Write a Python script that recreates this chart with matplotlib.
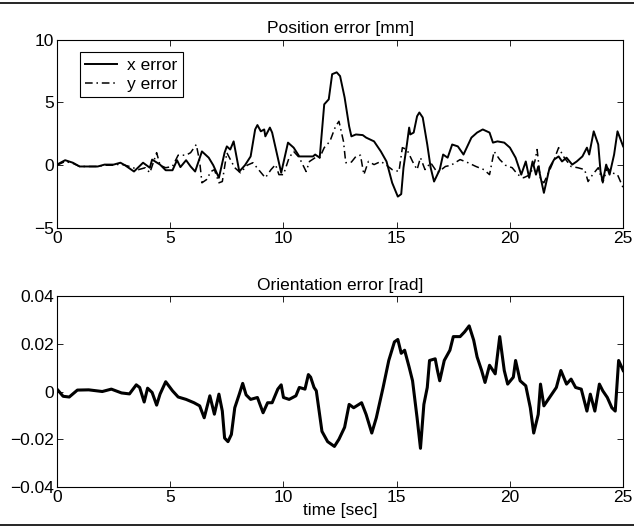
import matplotlib
matplotlib.use("Agg")
import matplotlib.pyplot as plt
from matplotlib.lines import Line2D
from matplotlib.ticker import FixedLocator, FixedFormatter

# ---- data ----
t_x = [0.0, 0.36, 0.7, 1.0, 1.8, 2.1, 2.5, 2.8, 3.0, 3.4, 3.8, 4.1, 4.2, 4.55, 4.8, 5.1, 5.3, 5.45, 5.7,
       5.9, 6.1, 6.4, 6.7, 6.9, 7.15, 7.4, 7.5, 7.65, 7.8, 8.05, 8.3, 8.55, 8.75, 8.85, 9.0, 9.15, 9.2,
       9.4, 9.5, 9.75, 9.9, 10.2, 10.45, 10.7, 11.3, 11.4, 11.6, 11.8, 12.0, 12.15, 12.35, 12.5, 12.7,
       12.9, 13.0, 13.2, 13.5, 13.65, 14.0, 14.3, 14.55, 14.8, 15.05, 15.2, 15.3, 15.45, 15.55, 15.6,
       15.75, 15.9, 16.0, 16.15, 16.35, 16.5, 16.65, 16.9, 17.05, 17.25, 17.45, 17.7, 17.95, 18.3, 18.55,
       18.8, 19.1, 19.25, 19.45, 19.75, 20.0, 20.25, 20.5, 20.7, 20.85, 21.0, 21.15, 21.25, 21.5, 21.75,
       21.95, 22.15, 22.3, 22.5, 22.75, 22.95, 23.2, 23.4, 23.5, 23.7, 23.9, 24.0, 24.1, 24.25, 24.4,
       24.6, 24.75, 25.0]
x_err = [0.05, 0.4, 0.2, -0.1, -0.1, 0.05, 0.05, 0.2, 0.0, -0.5, 0.2, -0.2, 0.45, 0.05, -0.4, -0.4, 0.4,
         -0.15, 0.4, -0.1, -0.5, 1.1, 0.6, 0.0, -1.0, 1.0, 1.5, 1.25, 1.9, -0.5, 0.0, 0.7, 2.85, 3.2, 2.7,
         2.85, 2.3, 3.0, 2.6, 0.6, -0.6, 1.8, 1.4, 0.7, 0.7, 0.85, 0.6, 4.85, 5.25, 7.25, 7.4, 7.1, 5.4,
         3.1, 2.3, 2.45, 2.4, 2.2, 1.9, 1.1, 0.3, -1.4, -2.5, -2.3, -0.2, 1.65, 3.0, 2.45, 2.6, 3.9, 4.2,
         3.8, 1.65, -0.2, -1.3, -0.35, 0.85, 0.6, 1.65, 1.5, 0.85, 2.2, 2.6, 2.85, 2.6, 1.8, 1.9, 1.8,
         1.4, 0.6, -0.75, 0.3, -1.0, 0.3, -0.75, -0.1, -2.2, -0.2, 0.45, 0.7, 0.3, 0.6, 0.05, 0.3, 0.7,
         1.4, 0.85, 2.7, 1.65, -0.5, -1.3, 0.05, -0.75, 0.85, 2.7, 1.5]

t_y = [0.0, 0.36, 0.7, 1.0, 1.8, 2.1, 2.5, 2.8, 3.2, 3.6, 3.9, 4.1, 4.4, 4.55, 4.8, 5.1, 5.35, 5.7, 5.9,
       6.15, 6.3, 6.4, 6.6, 6.8, 6.95, 7.15, 7.3, 7.5, 7.7, 7.85, 8.1, 8.4, 8.65, 8.9, 9.2, 9.45, 9.65,
       9.8, 10.0, 10.25, 10.45, 10.7, 11.0, 11.15, 11.4, 11.6, 11.8, 12.05, 12.3, 12.45, 12.65, 12.75,
       13.0, 13.2, 13.4, 13.55, 13.75, 14.0, 14.3, 14.55, 14.8, 15.1, 15.25, 15.45, 15.7, 15.9, 16.05,
       16.25, 16.5, 16.8, 17.15, 17.4, 17.8, 18.15, 18.5, 18.85, 19.1, 19.3, 19.55, 19.8, 20.1, 20.35,
       20.6, 20.9, 21.1, 21.2, 21.35, 21.5, 21.8, 21.95, 22.15, 22.4, 22.7, 23.0, 23.3, 23.45, 23.65,
       23.9, 24.1, 24.3, 24.5, 24.75, 25.0]
y_err = [0.0, 0.3, 0.15, -0.1, -0.1, 0.0, 0.0, 0.1, -0.1, -0.35, -0.2, -0.6, 1.0, 0.0, -0.2, -0.1, 0.8,
         0.8, 1.0, 1.65, 0.3, -1.4, -1.15, -0.5, -0.35, -1.4, -1.3, 1.0, 0.3, -0.2, -0.6, 0.0, 0.2, -0.35,
         -1.0, -0.35, 0.05, -0.75, -0.75, 0.6, 1.1, 0.6, -0.5, 0.3, 0.6, 0.6, 1.4, 1.9, 3.1, 3.5, 1.9, 0.2,
         0.25, 0.7, 0.8, -0.75, 0.3, 0.05, 0.3, 0.0, -0.35, -0.5, 1.4, 1.25, 0.3, -0.35, 0.6, -0.35, 0.2,
         -0.6, -0.1, 0.0, 0.45, 0.2, -0.1, -0.35, -0.75, 1.1, 0.45, 0.0, -0.2, -0.75, -1.0, -0.75, 0.3,
         1.25, -1.15, -1.4, -0.2, 0.45, 1.4, 0.6, -0.1, -0.2, -0.35, -1.3, -0.75, -0.2, -1.4, -0.2, -0.6,
         -0.75, -1.8]

t_o = [0.0, 0.27, 0.54, 0.9, 1.4, 2.0, 2.4, 2.85, 3.2, 3.5, 3.65, 3.85, 4.0, 4.2, 4.4, 4.55, 4.8, 5.1,
       5.35, 5.7, 6.05, 6.3, 6.5, 6.75, 6.95, 7.15, 7.3, 7.4, 7.55, 7.7, 7.85, 8.05, 8.2, 8.35, 8.55,
       8.85, 9.1, 9.3, 9.5, 9.75, 9.9, 10.0, 10.25, 10.55, 10.7, 10.95, 11.1, 11.2, 11.35, 11.45, 11.7,
       11.95, 12.25, 12.45, 12.7, 12.9, 13.1, 13.45, 13.65, 13.9, 14.1, 14.4, 14.65, 14.9, 15.05, 15.2,
       15.35, 15.55, 15.7, 15.9, 16.05, 16.2, 16.35, 16.45, 16.7, 16.8, 16.9, 17.1, 17.35, 17.5, 17.8,
       18.0, 18.2, 18.4, 18.55, 18.75, 18.9, 19.1, 19.35, 19.55, 19.75, 19.9, 20.15, 20.25, 20.45, 20.7,
       20.9, 21.05, 21.25, 21.35, 21.5, 21.8, 22.05, 22.25, 22.5, 22.7, 22.9, 23.15, 23.4, 23.55, 23.75,
       23.95, 24.1, 24.3, 24.5, 24.65, 24.8, 25.0]
orient = [0.001, -0.002, -0.0023, 0.0006, 0.0007, 0.0, 0.001, -0.0006, -0.001, 0.0028, 0.0017, -0.0044,
          0.0014, -0.0004, -0.0057, -0.0011, 0.0041, 0.0003, -0.0023, -0.0033, -0.0047, -0.006, -0.011,
          -0.0018, -0.0095, -0.0011, -0.0082, -0.0195, -0.021, -0.018, -0.0068, -0.0011, 0.0034, -0.0014,
          -0.0033, -0.0025, -0.0089, -0.0047, -0.0047, 0.001, 0.0028, -0.0025, -0.0033, -0.0018, 0.0017,
          0.001, 0.0071, 0.006, 0.0017, 0.0003, -0.0167, -0.021, -0.023, -0.020, -0.015, -0.0054, -0.0068,
          -0.0047, -0.0096, -0.0174, -0.011, 0.0017, 0.013, 0.0208, 0.0218, 0.016, 0.0173, 0.0102, 0.0045,
          -0.011, -0.0238, -0.0054, 0.0017, 0.013, 0.0137, 0.0088, 0.0045, 0.013, 0.0173, 0.023, 0.023,
          0.025, 0.0275, 0.0215, 0.0145, 0.0088, 0.0038, 0.011, 0.0074, 0.023, 0.0088, 0.0031, 0.006,
          0.013, 0.0045, 0.0024, -0.0068, -0.0174, -0.0096, 0.0031, -0.006, -0.0018, 0.0017, 0.0088,
          0.0031, 0.0052, 0.0017, 0.001, -0.0082, -0.0011, -0.0082, 0.0031, 0.0003, -0.0025, -0.0068,
          -0.0082, 0.013, 0.0088]

x_ticks = [0, 5, 10, 15, 20, 25]
pos_ticks = [-5, 0, 5, 10]
ori_ticks = [-0.04, -0.02, 0, 0.02, 0.04]
ori_labels = ["\u22120.04", "\u22120.02", "0", "0.02", "0.04"]

plt.rcParams['font.family'] = ['Liberation Sans', 'DejaVu Sans']
FS = 12.5

fig = plt.figure(figsize=(6.34, 5.29), dpi=100)
ax1 = fig.add_axes([0.0899, 0.5690, 0.893, 0.3560])
ax2 = fig.add_axes([0.0899, 0.0794, 0.893, 0.3610])

for ax in (ax1, ax2):
    ax.tick_params(direction='in', top=True, right=True, length=4, width=0.6,
                   labelsize=FS, pad=2)
    for s in ax.spines.values():
        s.set_linewidth(0.8)
    ax.set_xlim(0, 25)
    ax.xaxis.set_major_locator(FixedLocator(x_ticks))

ax1.plot(t_x, x_err, color='black', lw=1.4, label='x error')
ax1.plot(t_y, y_err, color='black', lw=1.1, linestyle=(0, (5, 2.5, 1, 2.5)), label='y error')
ax1.set_ylim(-5, 10)
ax1.yaxis.set_major_locator(FixedLocator(pos_ticks))
ax1.set_title('Position error [mm]', fontsize=FS, pad=5)
leg = ax1.legend(loc='upper left', bbox_to_anchor=(0.041, 0.933), borderaxespad=0,
                 fontsize=FS, frameon=True, fancybox=False, framealpha=1,
                 edgecolor='black', handlelength=1.8, handletextpad=0.6,
                 borderpad=0.3, labelspacing=0.25)
leg.get_frame().set_linewidth(0.8)

ax2.plot(t_o, orient, color='black', lw=2.2)
ax2.set_ylim(-0.04, 0.04)
ax2.yaxis.set_major_locator(FixedLocator(ori_ticks))
ax2.yaxis.set_major_formatter(FixedFormatter(ori_labels))
ax2.set_title('Orientation error [rad]', fontsize=FS, pad=4)
ax2.set_xlabel('time [sec]', fontsize=FS, labelpad=-1)

fig.add_artist(Line2D([0, 1], [1 - 2.5 / 529, 1 - 2.5 / 529], transform=fig.transFigure,
                      color='black', lw=1.2))
fig.add_artist(Line2D([0, 1], [1 - 524.5 / 529, 1 - 524.5 / 529], transform=fig.transFigure,
                      color='black', lw=1.2))

fig.savefig('out.png', dpi=100)
